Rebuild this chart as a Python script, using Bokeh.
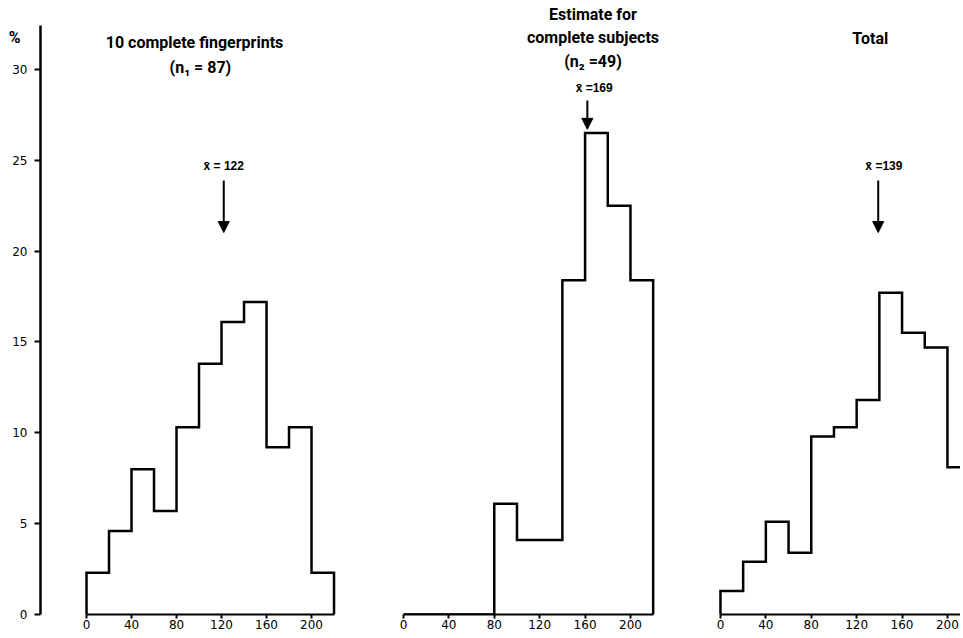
from bokeh.plotting import figure
from bokeh.layouts import row
from bokeh.models import Range1d, Arrow, NormalHead, FixedTicker, ColumnDataSource, LinearAxis
from bokeh.core.properties import value
from bokeh.embed import file_html
from bokeh.resources import INLINE

# ---------------- data ----------------
bin_edges = [0, 20, 40, 60, 80, 100, 120, 140, 160, 180, 200, 220]
fingerprints_pct = [2.3, 4.6, 8.0, 5.7, 10.3, 13.8, 16.1, 17.2, 9.2, 10.3, 2.3]
complete_pct = [0, 0, 0, 0, 6.1, 4.1, 4.1, 18.4, 26.5, 22.5, 18.4]
total_pct = [1.3, 2.9, 5.1, 3.4, 9.8, 10.3, 11.8, 17.7, 15.5, 14.7, 8.1]
x_ticks = [0, 40, 80, 120, 160, 200]
y_ticks = [0, 5, 10, 15, 20, 25, 30]
mean_values = [122, 169, 139]
mean_labels = ["x\u0304 = 122", "x\u0304 =169", "x\u0304 =139"]
title_fp = ["10 complete fingerprints", "(n\u2081  = 87)"]
title_cs = ["Estimate for", "complete subjects", "(n\u2082 =49)"]
title_tot = ["Total"]
unit_label = "%"

# ---------------- style ----------------
H = 634
YMAX = 33.79
TITLE_FONT = "Roboto"
TICK_FONT = "DejaVu Sans"
LABEL_FONT = "Liberation Sans"
PCT_Y = 31.76


def step_outline(edges, vals):
    xs, ys = [edges[0]], [0]
    for i, v in enumerate(vals):
        xs += [edges[i], edges[i + 1]]
        ys += [v, v]
    xs.append(edges[-1])
    ys.append(0)
    return xs, ys


def make_fig(width, xs, xe, left_border, with_y):
    p = figure(width=width, height=H,
               x_range=Range1d(xs, xe), y_range=Range1d(0, YMAX),
               output_backend="svg", toolbar_location=None,
               min_border_left=left_border, min_border_right=0,
               min_border_top=0, min_border_bottom=20,
               y_axis_location="left" if with_y else None)
    p.outline_line_color = None
    p.grid.visible = False
    ax = p.xaxis[0]
    ax.ticker = FixedTicker(ticks=x_ticks)
    ax.bounds = (0, 220)
    ax.axis_line_width = 2
    ax.major_tick_line_width = 2
    ax.major_tick_out = 4
    ax.major_tick_in = 0
    ax.minor_tick_line_color = None
    ax.major_label_standoff = 1
    ax.major_label_text_font = TICK_FONT
    ax.major_label_text_font_size = "12px"
    ax.major_label_text_color = "black"
    if with_y:
        ay = p.yaxis[0]
        ay.ticker = FixedTicker(ticks=y_ticks)
        ay.bounds = (0, 32.42)
        ay.axis_line_width = 2.5
        ay.major_tick_line_width = 2
        ay.major_tick_out = 6
        ay.major_tick_in = 0
        ay.minor_tick_line_color = None
        ay.major_label_standoff = 7
        ay.major_label_text_font = TICK_FONT
        ay.major_label_text_font_size = "12px"
        ay.major_label_text_color = "black"
        pct_axis = LinearAxis(ticker=FixedTicker(ticks=[PCT_Y]),
                              major_label_overrides={PCT_Y: unit_label},
                              axis_line_color=None, major_tick_line_color=None,
                              minor_tick_line_color=None, major_tick_out=0,
                              major_tick_in=0, major_label_standoff=-11,
                              major_label_text_font=TITLE_FONT,
                              major_label_text_font_style="bold",
                              major_label_text_font_size="16px",
                              major_label_text_color="black")
        p.add_layout(pct_axis, "left")
    return p


def add_hist(p, vals):
    xs, ys = step_outline(bin_edges, vals)
    p.line(xs, ys, line_color="black", line_width=2.5, line_join="miter")


def add_texts(p, lines, xs, ys, font, size, style="bold"):
    src = ColumnDataSource(dict(x=xs, y=ys, t=lines))
    p.text(x="x", y="y", text="t", source=src, text_align="center",
           text_baseline="middle", text_font=value(font),
           text_font_size=size, text_font_style=style, text_color="black")


def add_arrow(p, x, y0, y1):
    p.add_layout(Arrow(end=NormalHead(size=11, fill_color="black", line_color="black"),
                       x_start=x, y_start=y0, x_end=x, y_end=y1,
                       line_width=2, line_color="black"))


# Panel 1
p1 = make_fig(372, -40.9, 254.2, 40, True)
add_hist(p1, fingerprints_pct)
add_texts(p1, title_fp, [96, 103], [31.48, 30.10], TITLE_FONT, "16px")
add_texts(p1, [mean_labels[0]], [mean_values[0]], [24.66], LABEL_FONT, "12px")
add_arrow(p1, mean_values[0], 23.89, 21.02)

# Panel 2
p2 = make_fig(318, -27.3, 252.9, 0, False)
add_hist(p2, complete_pct)
add_texts(p2, title_cs, [167, 167, 167], [33.02, 31.76, 30.43], TITLE_FONT, "16px")
add_texts(p2, [mean_labels[1]], [168], [28.95], LABEL_FONT, "12px")
add_arrow(p2, 162, 28.29, 26.7)

# Panel 3
p3 = make_fig(270, -26.4, 211.5, 0, False)
add_hist(p3, total_pct)
add_texts(p3, title_tot, [132], [31.70], TITLE_FONT, "16px")
add_texts(p3, [mean_labels[2]], [144], [24.66], LABEL_FONT, "12px")
add_arrow(p3, mean_values[2], 23.89, 21.02)

layout = row(p1, p2, p3, spacing=0)
open("out.html", "w").write(file_html(layout, INLINE))
